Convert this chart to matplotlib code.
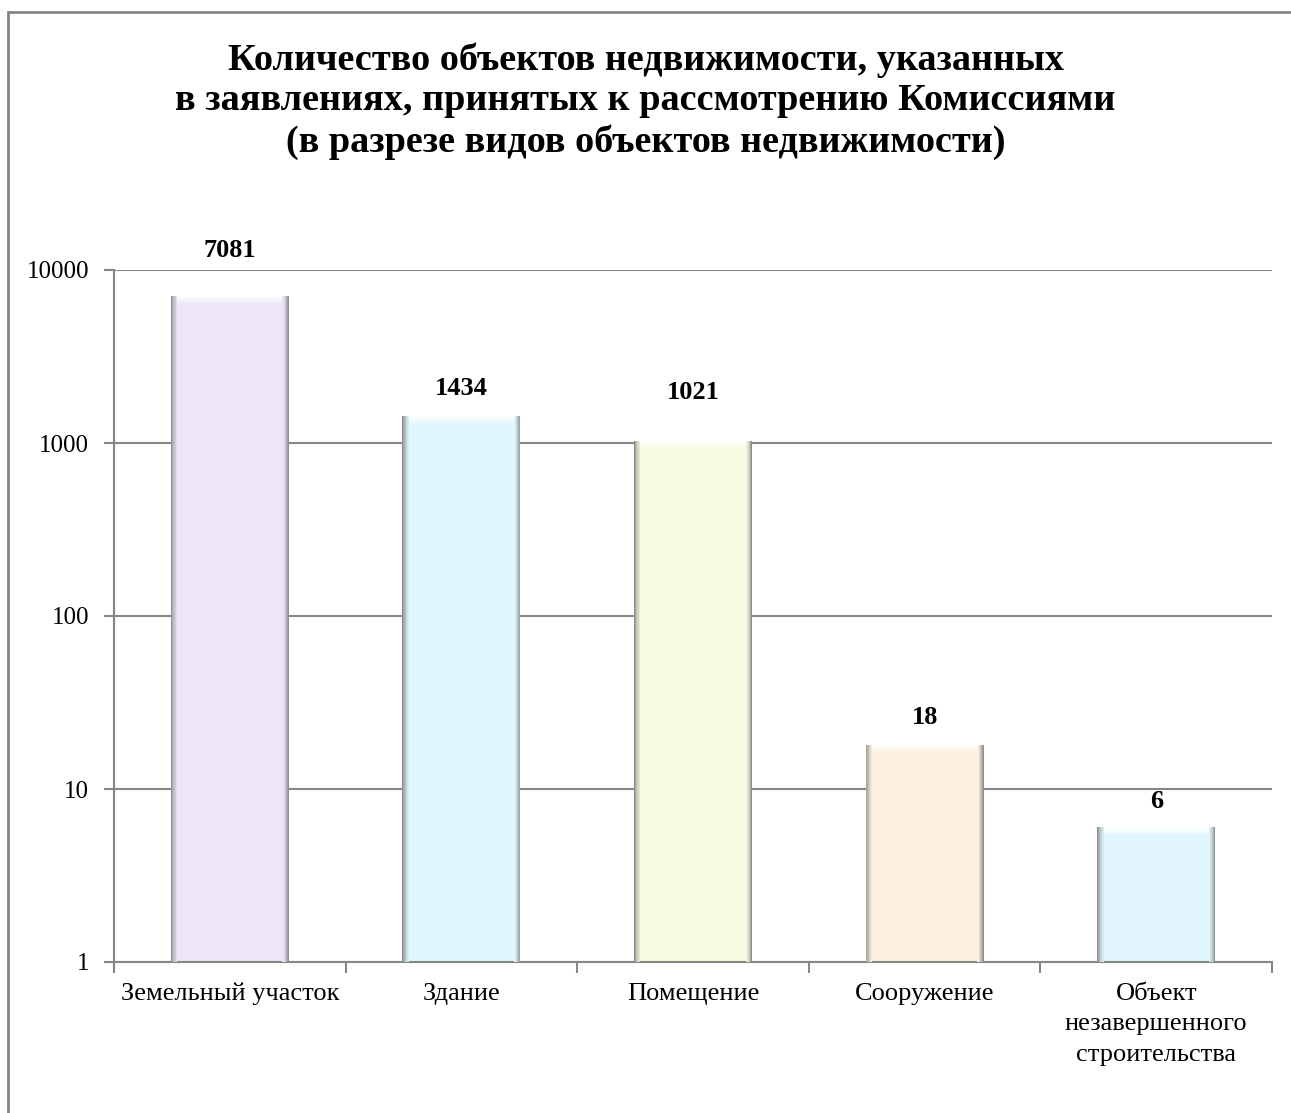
import matplotlib.pyplot as plt
import numpy as np
from matplotlib.colors import to_rgb
from matplotlib.patches import Rectangle
from matplotlib.ticker import FixedLocator, FuncFormatter

plt.rcParams["font.family"] = ["Liberation Serif", "DejaVu Serif"]

TITLE = (
    "Количество объектов недвижимости, указанных\n"
    "в заявлениях, принятых к рассмотрению Комиссиями\n"
    "(в разрезе видов объектов недвижимости)"
)
categories = [
    "Земельный участок",
    "Здание",
    "Помещение",
    "Сооружение",
    "Объект\nнезавершенного\nстроительства",
]
counts = [7081, 1434, 1021, 18, 6]
bar_colors = ["#ece6f6", "#dff6fc", "#f6fadf", "#fdf0df", "#e1f6fc"]
y_ticks = [1, 10, 100, 1000, 10000]

# label offsets above the bar tops, in points
label_offsets = [24.5, 11.5, 27, 11.5, 10.5]


def blend(c1, c2, t):
    a, b = np.array(to_rgb(c1)), np.array(to_rgb(c2))
    return tuple(a + (b - a) * t)


def shade_bar(ax, patch, color, steps=8):
    x0 = patch.get_x()
    w = patch.get_width()
    h = patch.get_height()
    edge = w * 0.055
    for i in range(steps):
        t = i / steps
        # left side: grey fading into the fill
        ax.bar(x0 + edge * t, h, width=edge / steps, align="edge",
               color=blend("#8c8c8c", color, t ** 0.7), zorder=3, linewidth=0)
        # right side: fill darkening towards the edge
        ax.bar(x0 + w - edge + edge * t, h, width=edge / steps, align="edge",
               color=blend(color, "#7a7a7a", t ** 1.4), zorder=3, linewidth=0)
    # light cap at the top of the bar
    for i in range(steps):
        t = i / steps
        lo = h / 1.13 ** (1 - t)
        hi = h / 1.13 ** (1 - (i + 1) / steps)
        ax.bar(x0 + edge, hi - lo, bottom=lo, width=w - 2 * edge, align="edge",
               color=blend(color, "#ffffff", t), zorder=3, linewidth=0)


def main():
    fig = plt.figure(figsize=(12.91, 11.13), dpi=100)
    fig.patch.set_facecolor("white")

    # outer chart frame
    fig.add_artist(Rectangle((8 / 1291, -0.1), 1.2, 1 - 12 / 1113 + 0.1,
                             transform=fig.transFigure, fill=False,
                             edgecolor="#858585", linewidth=2))

    ax = fig.add_axes([114 / 1291, 1 - 962 / 1113,
                       (1272 - 114) / 1291, (962 - 270) / 1113])
    ax.set_yscale("log")
    x = np.arange(len(categories))
    bars = ax.bar(x, counts, width=0.51, color=bar_colors, linewidth=0, zorder=2)
    for patch, color in zip(bars, bar_colors):
        shade_bar(ax, patch, color)

    ax.set_xlim(-0.5, len(categories) - 0.5)
    ax.set_ylim(1, 10000)

    ax.yaxis.set_major_locator(FixedLocator(y_ticks))
    ax.yaxis.set_major_formatter(FuncFormatter(lambda v, _: f"{v:.0f}"))
    ax.yaxis.set_minor_locator(FixedLocator([]))
    ax.tick_params(axis="y", which="major", length=7, width=1.5,
                   color="#868686", labelsize=18, pad=11)
    ax.grid(axis="y", color="#868686", linewidth=1.5, zorder=0)
    ax.set_axisbelow(True)

    ax.set_xticks(x)
    ax.set_xticklabels(categories, fontsize=19, linespacing=1.5)
    ax.set_xticks(np.arange(-0.5, len(categories)), minor=True)
    ax.tick_params(axis="x", which="major", length=0, pad=15)
    ax.tick_params(axis="x", which="minor", length=8, width=1.5, color="#868686")

    for side in ("top", "right"):
        ax.spines[side].set_visible(False)
    for side in ("left", "bottom"):
        ax.spines[side].set_color("#868686")
        ax.spines[side].set_linewidth(1.5)

    for xi, v, off in zip(x, counts, label_offsets):
        ax.annotate(f"{v}", (xi, v), xytext=(0, off), textcoords="offset points",
                    ha="center", va="bottom", fontsize=19, fontweight="bold")

    fig.text(0.5, 1 - 101 / 1113, TITLE, ha="center", va="center",
             fontsize=27.5, fontweight="bold", linespacing=1.2)

    fig.savefig("out.png", dpi=100, facecolor="white")


if __name__ == "__main__":
    main()
